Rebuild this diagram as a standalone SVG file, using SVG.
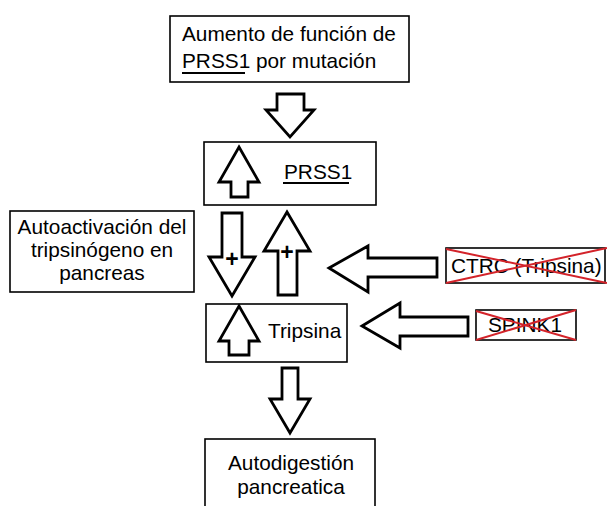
<svg xmlns="http://www.w3.org/2000/svg" width="607" height="506" viewBox="0 0 607 506">
<style>
.box{fill:#fff;stroke:#000;stroke-width:1.6}
.arr{fill:#fff;stroke:#000;stroke-width:2.8;stroke-linejoin:miter}
.t{font-family:"Liberation Sans",Arial,Helvetica,sans-serif;font-size:20.8px;fill:#000}
.c{text-anchor:middle}
.ul{stroke:#000;stroke-width:2}
.x{stroke:#d3232a;stroke-width:2}
.plus{font-family:"Liberation Sans",Arial,sans-serif;font-size:23px;font-weight:bold;text-anchor:middle;fill:#000}
</style>
<rect width="607" height="506" fill="#fff"/>
<g id="connectors">
<polygon class="arr" points="277,94 304,94 304,110 314,110 290,137 266,110 277,110"/>
<polygon class="arr" points="222,213 242,213 242,257 255,257 232,296 209,257 222,257"/>
<text class="plus" x="232" y="267">+</text>
<polygon class="arr" points="287,212 310,251 297,251 297,295 278,295 278,251 264,251"/>
<text class="plus" x="287" y="260">+</text>
<polygon class="arr" points="282,368 298,368 298,399 310,399 290,433 270,399 282,399"/>
<polygon class="arr" points="329,268 368,246 368,258 437,258 437,277 368,277 368,292"/>
<polygon class="arr" points="362,326 400,303 400,317 468,317 468,336 400,336 400,348"/>
</g>
<g id="node-aumento">
<rect class="box" x="170" y="16" width="239" height="66"/>
<text class="t" x="182" y="41">Aumento de función de</text>
<text class="t" x="182" y="68">PRSS1 por mutación</text>
<line class="ul" x1="182" y1="73" x2="245" y2="73"/>
</g>
<g id="node-prss1">
<rect class="box" x="204" y="142" width="172" height="63"/>
<polygon class="arr" points="239,147 259,182 248,182 248,197 231,197 231,182 219,182"/>
<text class="t" x="284" y="179">PRSS1</text>
<line class="ul" x1="283" y1="183" x2="349" y2="183"/>
</g>
<g id="node-autoactivacion">
<rect class="box" x="10" y="211" width="184" height="81"/>
<text class="t c" x="102" y="234">Autoactivación del</text>
<text class="t c" x="102" y="257">tripsinógeno en</text>
<text class="t c" x="102" y="280">pancreas</text>
</g>
<g id="node-ctrc">
<rect class="box" x="446" y="248" width="159" height="35"/>
<text class="t" x="451" y="273">CTRC (Tripsina)</text>
<line class="x" x1="446" y1="249" x2="607" y2="283"/>
<line class="x" x1="446" y1="283" x2="607" y2="248"/>
</g>
<g id="node-tripsina">
<rect class="box" x="206" y="304" width="141" height="58"/>
<polygon class="arr" points="239,306 259,341 249,341 249,355 229,355 229,341 219,341"/>
<text class="t" x="268" y="338">Tripsina</text>
</g>
<g id="node-spink1">
<rect class="box" x="476" y="310" width="100" height="30"/>
<text class="t" x="488" y="332">SPINK1</text>
<line class="x" x1="476" y1="311" x2="576" y2="340"/>
<line class="x" x1="476" y1="340" x2="576" y2="310"/>
</g>
<g id="node-autodigestion">
<rect class="box" x="205" y="439" width="170" height="80"/>
<text class="t c" x="291" y="470">Autodigestión</text>
<text class="t c" x="291" y="494">pancreatica</text>
</g>
</svg>
